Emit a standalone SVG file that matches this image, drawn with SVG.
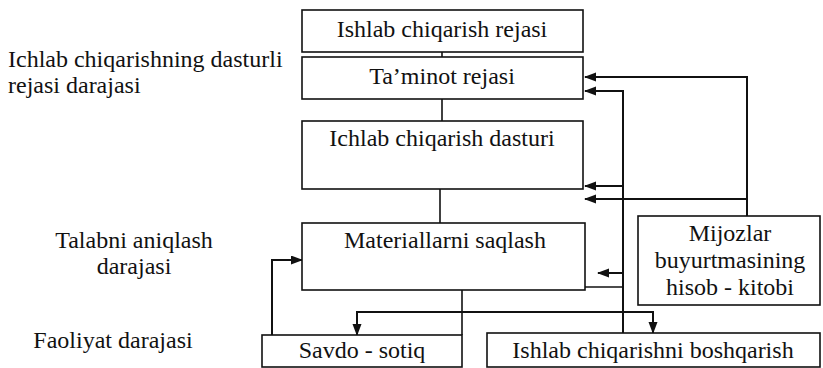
<svg xmlns="http://www.w3.org/2000/svg" width="823" height="368" viewBox="0 0 823 368">
<style>
.box{fill:#fff;stroke:#111;stroke-width:1.6}
.t{font-size:24px;fill:#111}
.c{text-anchor:middle}
.ln{fill:none;stroke:#111;stroke-width:1.6}
.ar{fill:none;stroke:#111;stroke-width:2}
</style>
<defs>
<marker id="ah" markerUnits="userSpaceOnUse" markerWidth="12" markerHeight="10" refX="11" refY="4.5" orient="auto-start-reverse">
<path d="M0,0 L12,4.5 L0,9 z" fill="#111"/>
</marker>
</defs>
<rect width="823" height="368" fill="#fff"/>
<g font-family="'Liberation Serif', 'DejaVu Serif', serif">
<g id="labels">
<text class="t" x="8" y="67">Ichlab chiqarishning dasturli</text>
<text class="t" x="8" y="93">rejasi darajasi</text>
<text class="t c" x="134" y="248">Talabni aniqlash</text>
<text class="t c" x="134" y="274">darajasi</text>
<text class="t c" x="113" y="348">Faoliyat darajasi</text>
</g>
<g id="connectors">
<line class="ln" x1="442" y1="52" x2="442" y2="57"/>
<line class="ln" x1="442" y1="99" x2="442" y2="121"/>
<line class="ln" x1="440" y1="189" x2="440" y2="223"/>
<polyline class="ar" points="747,216 747,77 585,77" marker-end="url(#ah)"/>
<polyline class="ar" points="747,199 585,199" marker-end="url(#ah)"/>
<polyline class="ar" points="623,333 623,91 585,91" marker-end="url(#ah)"/>
<polyline class="ar" points="623,186 585,186" marker-end="url(#ah)"/>
<polyline class="ar" points="623,273 598,273" marker-end="url(#ah)"/>
<line class="ln" x1="585" y1="287" x2="623" y2="287"/>
<line class="ln" x1="462" y1="290" x2="462" y2="335"/>
<polyline class="ar" points="357,335 357,312 653,312 653,333" marker-start="url(#ah)" marker-end="url(#ah)"/>
<polyline class="ar" points="272,335 272,260 302,260" marker-end="url(#ah)"/>
</g>
<g id="n1"><rect class="box" x="302" y="10" width="281" height="42"/><text class="t c" x="442" y="37">Ishlab chiqarish rejasi</text></g>
<g id="n2"><rect class="box" x="302" y="57" width="281" height="42"/><text class="t c" x="442" y="84">Ta’minot rejasi</text></g>
<g id="n3"><rect class="box" x="302" y="121" width="281" height="68"/><text class="t c" x="442" y="146">Ichlab chiqarish dasturi</text></g>
<g id="n4"><rect class="box" x="302" y="223" width="283" height="67"/><text class="t c" x="445" y="248">Materiallarni saqlash</text></g>
<g id="n5"><rect class="box" x="638" y="216" width="182" height="89"/><text class="t c" x="730" y="241">Mijozlar</text><text class="t c" x="730" y="268">buyurtmasining</text><text class="t c" x="730" y="295">hisob - kitobi</text></g>
<g id="n6"><rect class="box" x="262" y="335" width="200" height="32"/><text class="t c" x="362" y="358">Savdo - sotiq</text></g>
<g id="n7"><rect class="box" x="487" y="333" width="333" height="34"/><text class="t c" x="653" y="358">Ishlab chiqarishni boshqarish</text></g>
</g>
</svg>
